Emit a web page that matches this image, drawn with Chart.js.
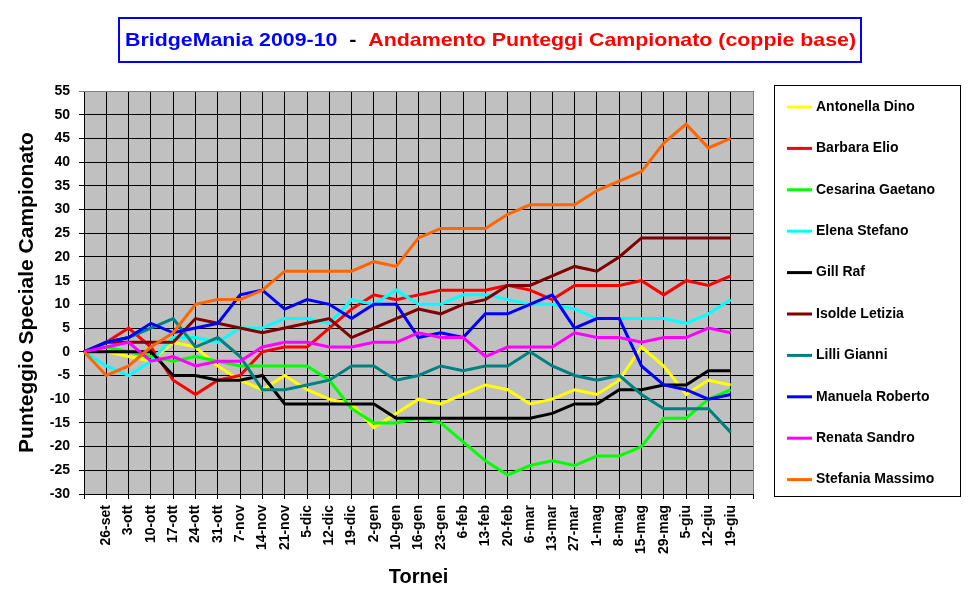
<!DOCTYPE html>
<html>
<head>
<meta charset="utf-8">
<script src="https://cdn.jsdelivr.net/npm/chart.js@4.4.0/dist/chart.umd.min.js"></script>
<style>
  html, body { margin: 0; padding: 0; background: #fff; }
</style>
</head>
<body>
<canvas id="chart" width="970" height="604"></canvas>
<script>
// categorie (prima e ultima vuote, come nel foglio originale)
const tornei = ['', '26-set', '3-ott', '10-ott', '17-ott', '24-ott', '31-ott', '7-nov', '14-nov', '21-nov',
    '5-dic', '12-dic', '19-dic', '2-gen', '10-gen', '16-gen', '23-gen', '6-feb', '13-feb', '20-feb',
    '6-mar', '13-mar', '27-mar', '1-mag', '8-mag', '15-mag', '29-mag', '5-giu', '12-giu', '19-giu', ''];

const antonellaDino   = [0, 0, -1, -2, 2, 1, -3, -6, -8, -5, -8, -10, -11, -16, -13, -10, -11, -9, -7, -8, -11, -10, -8, -9, -6, 1, -3, -9, -6, -7];
const barbaraElio     = [0, 2, 5, 1, -6, -9, -6, -5, 0, 1, 1, 5, 9, 12, 11, 12, 13, 13, 13, 14, 13, 11, 14, 14, 14, 15, 12, 15, 14, 16];
const cesarinaGaetano = [0, 1, 0, -1, -2, -1, -2, -3, -3, -3, -3, -6, -12, -15, -15, -14, -15, -19, -23, -26, -24, -23, -24, -22, -22, -20, -14, -14, -10, -8];
const elenaStefano    = [0, -3, -5, -2, 3, 3, 2, 5, 5, 7, 7, 6, 11, 10, 13, 10, 10, 12, 12, 11, 10, 10, 9, 7, 7, 7, 7, 6, 8, 11];
const gillRaf         = [0, 0, 0, 0, -5, -5, -6, -6, -5, -11, -11, -11, -11, -11, -14, -14, -14, -14, -14, -14, -14, -13, -11, -11, -8, -8, -7, -7, -4, -4];
const isoldeLetizia   = [0, 2, 2, 2, 2, 7, 6, 5, 4, 5, 6, 7, 3, 5, 7, 9, 8, 10, 11, 14, 14, 16, 18, 17, 20, 24, 24, 24, 24, 24];
const lilliGianni     = [0, 2, 3, 5, 7, 1, 3, -1, -8, -8, -7, -6, -3, -3, -6, -5, -3, -4, -3, -3, 0, -3, -5, -6, -5, -9, -12, -12, -12, -17];
const manuelaRoberto  = [0, 2, 3, 6, 4, 5, 6, 12, 13, 9, 11, 10, 7, 10, 10, 3, 4, 3, 8, 8, 10, 12, 5, 7, 7, -3, -7, -8, -10, -9];
const renataSandro    = [0, 1, 2, -2, -1, -3, -2, -2, 1, 2, 2, 1, 1, 2, 2, 4, 3, 3, -1, 1, 1, 1, 4, 3, 3, 2, 3, 3, 5, 4];
const stefaniaMassimo = [0, -5, -3, 1, 4, 10, 11, 11, 13, 17, 17, 17, 17, 19, 18, 24, 26, 26, 26, 29, 31, 31, 31, 34, 36, 38, 44, 48, 43, 45];

const coppie = ['Antonella Dino', 'Barbara Elio', 'Cesarina Gaetano', 'Elena Stefano', 'Gill Raf',
    'Isolde Letizia', 'Lilli Gianni', 'Manuela Roberto', 'Renata Sandro', 'Stefania Massimo'];
const serie = [antonellaDino, barbaraElio, cesarinaGaetano, elenaStefano, gillRaf,
    isoldeLetizia, lilliGianni, manuelaRoberto, renataSandro, stefaniaMassimo];
const colori = ['#ffff00', '#ff0000', '#00ff00', '#00ffff', '#000000',
    '#800000', '#008080', '#0000ff', '#ff00ff', '#ff6600'];

const FONT = '"Liberation Sans", Arial, sans-serif';

const extra = {
    id: 'extra',
    beforeDraw(chart) {
        const { ctx, chartArea: a } = chart;
        ctx.save();
        ctx.fillStyle = '#ffffff';
        ctx.fillRect(0, 0, chart.width, chart.height);
        ctx.fillStyle = '#c0c0c0';
        ctx.fillRect(a.left, a.top, a.right - a.left, a.bottom - a.top);
        ctx.restore();
    },
    afterDraw(chart) {
        const { ctx, chartArea: a } = chart;
        ctx.save();

        // bordo grigio sopra e a destra
        ctx.strokeStyle = '#808080';
        ctx.lineWidth = 1;
        ctx.beginPath();
        ctx.moveTo(a.left, a.top + 0.5);
        ctx.lineTo(a.right + 0.5, a.top + 0.5);
        ctx.lineTo(a.right + 0.5, a.bottom);
        ctx.stroke();

        // titolo
        ctx.strokeStyle = '#0000ff';
        ctx.lineWidth = 2;
        ctx.strokeRect(119, 18, 742, 44);
        const parti = [['BridgeMania 2009-10', '#0000ff'], ['  -  ', '#000000'],
            ['Andamento Punteggi Campionato (coppie base)', '#ff0000']];
        ctx.font = 'bold 19px ' + FONT;
        ctx.textBaseline = 'alphabetic';
        ctx.textAlign = 'left';
        let tot = 0;
        parti.forEach(p => { tot += ctx.measureText(p[0]).width; });
        ctx.translate(125, 46);
        ctx.scale(731 / tot, 1);
        let x = 0;
        parti.forEach(p => {
            ctx.fillStyle = p[1];
            ctx.fillText(p[0], x, 0);
            x += ctx.measureText(p[0]).width;
        });
        ctx.setTransform(1, 0, 0, 1, 0, 0);

        // legenda
        ctx.strokeStyle = '#000000';
        ctx.lineWidth = 1;
        ctx.strokeRect(774.5, 85.5, 186, 411);
        ctx.font = 'bold 14px ' + FONT;
        ctx.textBaseline = 'middle';
        chart.data.datasets.forEach((ds, i) => {
            const y = 107 + i * 41.4;
            ctx.strokeStyle = ds.borderColor;
            ctx.lineWidth = 3;
            ctx.beginPath();
            ctx.moveTo(787, y);
            ctx.lineTo(812, y);
            ctx.stroke();
            ctx.fillStyle = '#000000';
            ctx.fillText(ds.label, 816, y);
        });
        ctx.restore();
    }
};

new Chart(document.getElementById('chart'), {
    type: 'line',
    data: {
        labels: tornei,
        datasets: serie.map((s, i) => ({
            label: coppie[i],
            data: s,
            borderColor: colori[i],
            backgroundColor: colori[i],
            borderWidth: 3,
            pointRadius: 0,
            tension: 0,
            fill: false,
            order: serie.length - i
        }))
    },
    options: {
        responsive: false,
        animation: false,
        devicePixelRatio: 1,
        layout: { padding: { left: 0, top: 91, right: 217, bottom: 0 } },
        plugins: { legend: { display: false }, tooltip: { enabled: false } },
        scales: {
            x: {
                offset: false,
                grid: {
                    color: '#000000', lineWidth: 1, offset: false,
                    tickLength: 5
                },
                border: { color: '#000000', width: 1 },
                ticks: {
                    autoSkip: false, minRotation: 90, maxRotation: 90, padding: 6,
                    color: '#000000', font: { family: FONT, size: 14, weight: 'bold' }
                },
                title: {
                    display: true, text: 'Tornei', color: '#000000',
                    font: { family: FONT, size: 20, weight: 'bold' },
                    padding: { top: 0, bottom: 15 }
                },
                afterFit(scale) { scale.height = 110; }
            },
            y: {
                min: -30,
                max: 55,
                grid: {
                    color: c => (c.tick && c.tick.value === 55 ? '#808080' : '#000000'),
                    lineWidth: 1, tickLength: 5
                },
                border: { color: '#000000', width: 1 },
                ticks: {
                    stepSize: 5, padding: 9, color: '#000000',
                    font: { family: FONT, size: 14, weight: 'bold' }
                },
                title: {
                    display: true, text: 'Punteggio Speciale Campionato', color: '#000000',
                    font: { family: FONT, size: 21, weight: 'bold' },
                    padding: { top: 15, bottom: 0 }
                },
                afterFit(scale) { scale.width = 84; }
            }
        }
    },
    plugins: [extra]
});
</script>
</body>
</html>
